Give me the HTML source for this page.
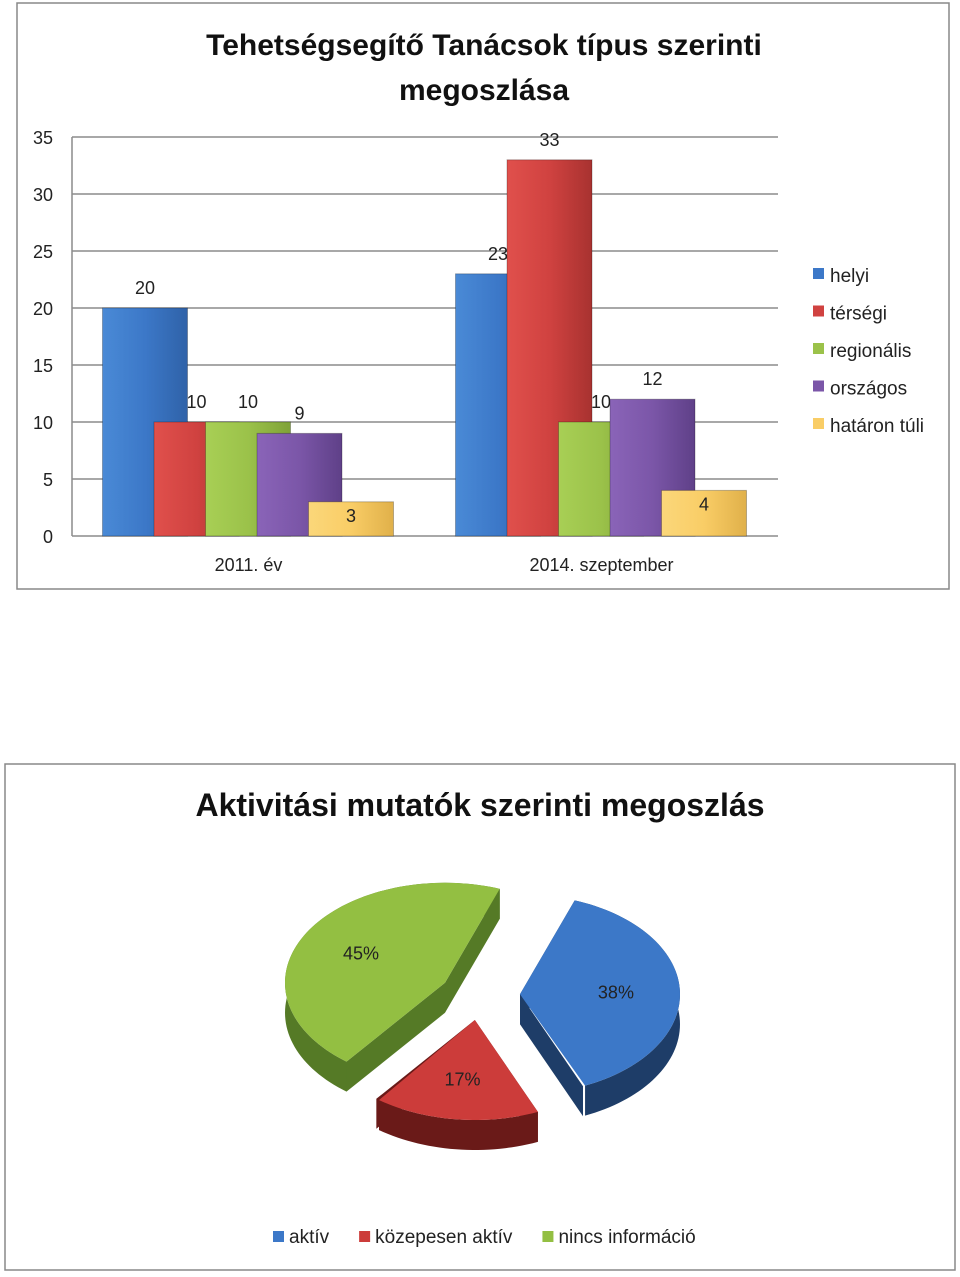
<!DOCTYPE html>
<html><head><meta charset="utf-8"><style>
body{margin:0;background:#fff;width:960px;height:1272px;overflow:hidden;font-family:"Liberation Sans",sans-serif}
svg text{font-family:"Liberation Sans",sans-serif}
</style></head><body>
<svg id="s" width="960" height="1272" xmlns="http://www.w3.org/2000/svg">
<defs>
<linearGradient id="gb" x1="0" x2="1"><stop offset="0" stop-color="#4a8ad6"/><stop offset="0.5" stop-color="#3c78c8"/><stop offset="1" stop-color="#2f62a8"/></linearGradient>
<linearGradient id="gr" x1="0" x2="1"><stop offset="0" stop-color="#e0504c"/><stop offset="0.5" stop-color="#d04240"/><stop offset="1" stop-color="#a83230"/></linearGradient>
<linearGradient id="gg" x1="0" x2="1"><stop offset="0" stop-color="#a8cf55"/><stop offset="0.5" stop-color="#9bc24a"/><stop offset="1" stop-color="#7fa238"/></linearGradient>
<linearGradient id="gp" x1="0" x2="1"><stop offset="0" stop-color="#8a64b8"/><stop offset="0.5" stop-color="#7b56a8"/><stop offset="1" stop-color="#5f4088"/></linearGradient>
<linearGradient id="gy" x1="0" x2="1"><stop offset="0" stop-color="#fbd77a"/><stop offset="0.5" stop-color="#f9cd66"/><stop offset="1" stop-color="#e0b04a"/></linearGradient>
</defs>
<rect x="17" y="3" width="932" height="586" fill="#fff" stroke="#888" stroke-width="1.5"/>
<text x="484" y="55" text-anchor="middle" font-size="30" font-weight="bold" fill="#111">Tehetségsegítő Tanácsok típus szerinti</text>
<text x="484" y="100" text-anchor="middle" font-size="30" font-weight="bold" fill="#111">megoszlása</text>
<g id="bars"></g>
<rect x="5" y="764" width="950" height="506" fill="#fff" stroke="#888" stroke-width="1.5"/>
<text x="480" y="816" text-anchor="middle" font-size="32" font-weight="bold" fill="#111">Aktivitási mutatók szerinti megoszlás</text>
<g id="pie"></g>
</svg>
<script>
const NS="http://www.w3.org/2000/svg";
function mk(p,t,a){const e=document.createElementNS(NS,t);for(const k in a)e.setAttribute(k,a[k]);p.appendChild(e);return e;}
// bar chart data
const categories=["2011. év","2014. szeptember"];
const seriesNames=["helyi","térségi","regionális","országos","határon túli"];
const helyi=[20,23];
const tersegi=[10,33];
const regionalis=[10,10];
const orszagos=[9,12];
const hataronTuli=[3,4];
const yTicks=[0,5,10,15,20,25,30,35];
const seriesVals=[helyi,tersegi,regionalis,orszagos,hataronTuli];
const fills=["url(#gb)","url(#gr)","url(#gg)","url(#gp)","url(#gy)"];
const legendCols=["#3c78c8","#d04240","#9bc24a","#7b56a8","#f9cd66"];
const bg=document.getElementById('bars');
const x0=72,x1=778,yb=536,yt=137,ymax=35;
const y=v=>yb-(yb-yt)*v/ymax;
const catW=(x1-x0)/categories.length;
const cx=i=>x0+catW*(i+0.5);
yTicks.forEach(t=>{
 const l=mk(bg,'line',{x1:x0,x2:x1,y1:y(t),y2:y(t),stroke:'#8c8c8c','stroke-width':1.5});
 
 
 const tx=mk(bg,'text',{x:53,y:y(t)+7,'text-anchor':'end','font-size':18,fill:'#222'});tx.textContent=t;
 
 
});
const ax=mk(bg,'line',{x1:x0,x2:x0,y1:yt,y2:yb,stroke:'#8c8c8c','stroke-width':1.5});


const bw=85,step=51.5;
categories.forEach((c,i)=>{
 const gs=cx(i)-146;
 seriesVals.forEach((arr,s)=>{
  const v=arr[i];const bx=gs+s*step;
  const r=mk(bg,'rect',{x:bx,y:y(v),width:bw,height:yb-y(v),fill:fills[s],stroke:'rgba(0,0,0,0.25)','stroke-width':1});
  
  
  const inside=v<5;
  const t=mk(bg,'text',{x:bx+bw/2,y:inside?y(v)+20:y(v)-14,'text-anchor':'middle','font-size':18,fill:'#222'});t.textContent=v;
  
  
 });
 const ct=mk(bg,'text',{x:cx(i),y:571,'text-anchor':'middle','font-size':18,fill:'#222'});ct.textContent=c;
 
 
});
seriesNames.forEach((n,s)=>{
 const ly=275+s*37.5;
 const r=mk(bg,'rect',{x:813,y:ly-7,width:11,height:11,fill:legendCols[s]});
 
 
 const t=mk(bg,'text',{x:830,y:ly+7,'font-size':19,fill:'#222'});t.textContent=n;
 
 
});
// pie data
const pieLabels=["aktív","közepesen aktív","nincs információ"];
const pieValues=[38,17,45];
const pieTop=["#3c78c8","#cc3c3a","#93bf42"];
const pieSide=["#1e3d68","#6a1a18","#557a26"];
const pg=document.getElementById('pie');
const PCX=480,PCY=995,RX=160,RY=100,DEP=30,EXP=40,START=20;
const tot=pieValues.reduce((a,b)=>a+b,0);
const pt=(ox,oy,a,d)=>[ox+RX*Math.sin(a*Math.PI/180),oy-RY*Math.cos(a*Math.PI/180)+(d||0)];
let acc=START;const slices=[];
pieValues.forEach((v,i)=>{const a0=acc,a1=acc+360*v/tot;acc=a1;const m=(a0+a1)/2;
 slices.push({i,a0,a1,m,ox:PCX+EXP*Math.sin(m*Math.PI/180),oy:PCY-EXP*0.63*Math.cos(m*Math.PI/180)});});
slices.forEach(s=>{
 const g=mk(pg,'g',{});
 
 
 const arc=[];for(let a=s.a0;a<=s.a1+0.01;a+=2)arc.push(pt(s.ox,s.oy,Math.min(a,s.a1)));
 const arcB=arc.map(p=>[p[0],p[1]+DEP]);
 // cut faces
 [s.a0,s.a1].forEach(a=>{const p=pt(s.ox,s.oy,a);
  mk(g,'polygon',{points:[[s.ox,s.oy],p,[p[0],p[1]+DEP],[s.ox,s.oy+DEP]].map(q=>q.join(',')).join(' '),fill:pieSide[s.i]});});
 mk(g,'polygon',{points:arc.concat(arcB.slice().reverse()).map(q=>q.join(',')).join(' '),fill:pieSide[s.i]});
 mk(g,'polygon',{points:[[s.ox,s.oy]].concat(arc).map(q=>q.join(',')).join(' '),fill:pieTop[s.i]});
 const lp=[s.ox+RX*0.6*Math.sin(s.m*Math.PI/180),s.oy-RY*0.6*Math.cos(s.m*Math.PI/180)];
 const t=mk(g,'text',{x:lp[0],y:lp[1]+6,'text-anchor':'middle','font-size':18,fill:'#222'});
 t.textContent=Math.round(100*pieValues[s.i]/tot)+'%';
});
let lx=273;
pieLabels.forEach((n,i)=>{
 const r=mk(pg,'rect',{x:lx,y:1231,width:11,height:11,fill:pieTop[i]});
 
 
 const t=mk(pg,'text',{x:lx+16,y:1243,'font-size':19,fill:'#222'});t.textContent=n;
 
 
 lx+=16+t.getComputedTextLength()+30;
});
</script>
</body></html>
